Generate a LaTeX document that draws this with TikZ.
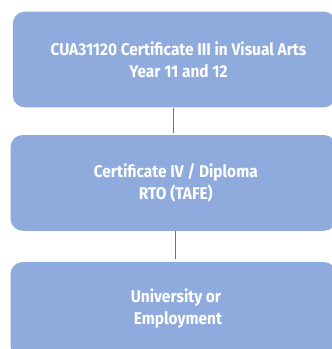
\documentclass[tikz,border=0pt]{standalone}
\usepackage{fontspec}
\usepackage{xcolor}
\usepackage{tikz}
\usetikzlibrary{calc}
\newfontfamily\boxfont{Fira Sans}[FakeStretch=0.91]

\definecolor{boxblue}{HTML}{8FAADC}
\definecolor{linkblue}{HTML}{4A74C4}

\begin{document}
\begin{tikzpicture}[x=1pt,y=-1pt,
    pathbox/.style={fill=boxblue,rounded corners=12pt,inner sep=0pt,
        minimum height=95.7pt},
    pathtext/.style={text=white,align=center,font=\boxfont\bfseries\fontsize{17}{21.7}\selectfont},
    link/.style={draw=linkblue,line width=1.3pt}]

\useasboundingbox (0,0) rectangle (332,349);

% boxes, top to bottom
\node[pathbox,minimum width=323pt] (certthree) at (174.3,59.5) {};
\node[pathbox,minimum width=325.5pt] (diploma) at (173.3,182.9) {};
\node[pathbox,minimum width=325.5pt] (uni) at (173.3,309.9) {};

% texts
\node[pathtext] (certthreetext) at ([xshift=4.2pt]certthree.center)
    {CUA31120 Certificate III in Visual Arts\\Year 11 and 12};
\node[pathtext] (diplomatext) at ([xshift=2.5pt]diploma.center)
    {Certificate IV / Diploma\\RTO (TAFE)};
\node[pathtext] (unitext) at ([xshift=2.7pt,yshift=1.5pt]uni.center)
    {University or\\\hspace*{4pt}Employment};

% connectors
\draw[link] ([xshift=-1pt]certthree.south) -- ([xshift=-1pt,yshift=2pt]certthree.south |- diploma.north);
\draw[link] ([xshift=2pt]diploma.south) -- ([xshift=2pt,yshift=3pt]diploma.south |- uni.north);
\end{tikzpicture}
\end{document}
